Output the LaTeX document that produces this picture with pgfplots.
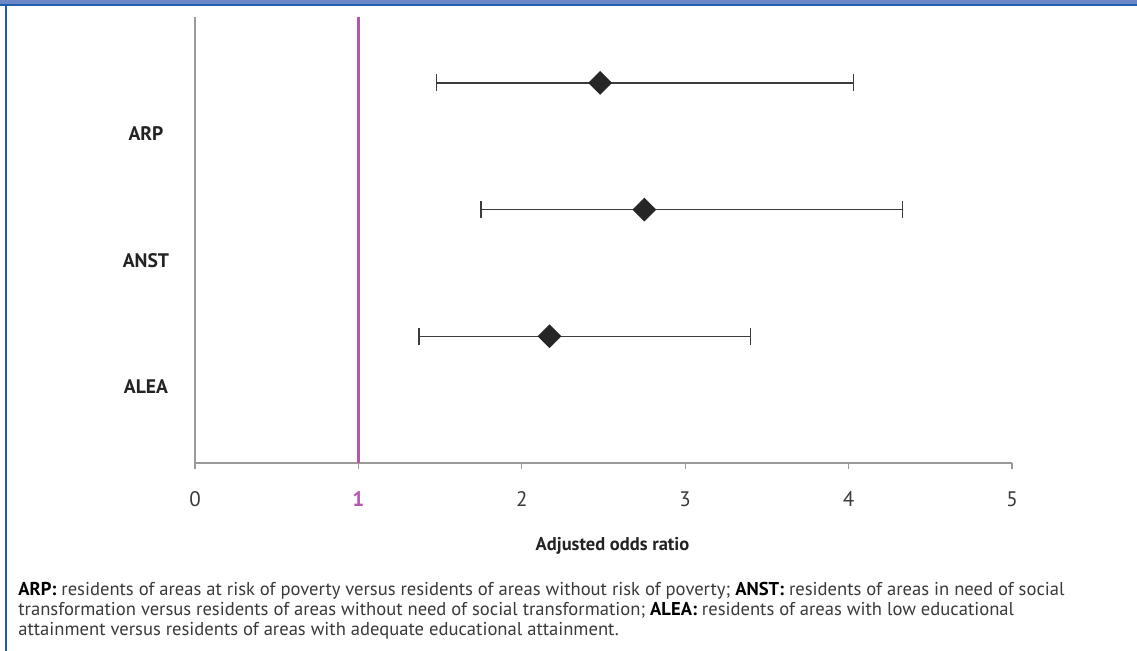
\documentclass[border=0pt]{standalone}
\usepackage{pgfplots}
\pgfplotsset{compat=1.18}
\usepackage{pgfplotstable}
\usepackage{fontspec}
\setmainfont{PT Sans}
\definecolor{axgray}{HTML}{9A9A9A}
\definecolor{txtgray}{HTML}{3A3A3A}
\definecolor{magline}{HTML}{B455AE}
\definecolor{barblue}{HTML}{6B87C6}
\definecolor{darkblue}{HTML}{1E5DAA}
\definecolor{barcol}{HTML}{3C3C3C}
\pgfplotstableread{
y   x     ep    em
3   2.48  1.55  1.00
2   2.75  1.58  1.00
1   2.17  1.23  0.80
}\ortable
\begin{document}
\begin{tikzpicture}
\useasboundingbox (0,0) rectangle (568.5pt,325.5pt);
\fill[white] (0,0) rectangle (568.5pt,325.5pt);
\fill[barblue] (0,323pt) rectangle (568.5pt,325.5pt);
\draw[darkblue, line width=0.9pt] (0,323pt) -- (568.5pt,323pt);
\draw[darkblue, line width=0.8pt] (3pt,0) -- (3pt,323pt);
\begin{axis}[
  at={(97.5pt,94pt)}, anchor=origin,
  scale only axis, width=408.5pt, height=223pt,
  xmin=0, xmax=5, ymin=0, ymax=3.52,
  axis x line*=bottom, axis y line*=left,
  axis line style={axgray, line width=0.65pt, -},
  xtick={0,1,2,3,4,5},
  xticklabels={0,{\color{magline}\bfseries 1},2,3,4,5},
  tick align=outside, major tick length=3pt,
  x tick style={axgray, line width=0.65pt},
  ytick={0.6,1.6,2.6},
  yticklabels={ALEA,ANST,ARP},
  y tick style={draw=none},
  yticklabel style={anchor=center, xshift=-21.5pt, font=\fontsize{9.8}{12}\selectfont\bfseries, text=txtgray!60!black},
  xticklabel style={anchor=center, yshift=-15pt, font=\fontsize{10.5}{12}\selectfont, text=txtgray},
  /pgf/number format/assume math mode=true,
  xlabel={Adjusted odds ratio},
  xlabel style={at={(axis description cs:0.5,0)}, anchor=center, xshift=4.5pt, yshift=-41.5pt, font=\fontsize{9.25}{12}\selectfont\bfseries, text=txtgray!60!black},
  clip=false,
]
\addplot[magline, line width=1.35pt, forget plot] coordinates {(1,0) (1,3.52)};
\addplot[draw=none, mark=none, forget plot,
  error bars/.cd, x dir=both, x explicit,
  error mark=|,
  error bar style={draw=barcol, line width=0.65pt},
  error mark options={draw=barcol, line width=0.65pt, mark size=4.3pt}]
  table[x=x, y=y, x error plus=ep, x error minus=em] {\ortable};
\addplot[only marks, mark=square*, mark size=4.0pt,
  mark options={rotate=45, fill=black!85, draw=black!85}]
  table[x=x, y=y] {\ortable};
\end{axis}
\node[anchor=north west, inner sep=0pt, align=left, text=txtgray,
  font=\fontsize{9.3}{10}\selectfont] at (9pt,34.5pt) {%
\textbf{\color{black}ARP:} residents of areas at risk of poverty versus residents of areas without risk of poverty; \textbf{\color{black}ANST:} residents of areas in need of social\\
transformation versus residents of areas without need of social transformation; \textbf{\color{black}ALEA:} residents of areas with low educational\\
attainment versus residents of areas with adequate educational attainment.};
\end{tikzpicture}
\end{document}
